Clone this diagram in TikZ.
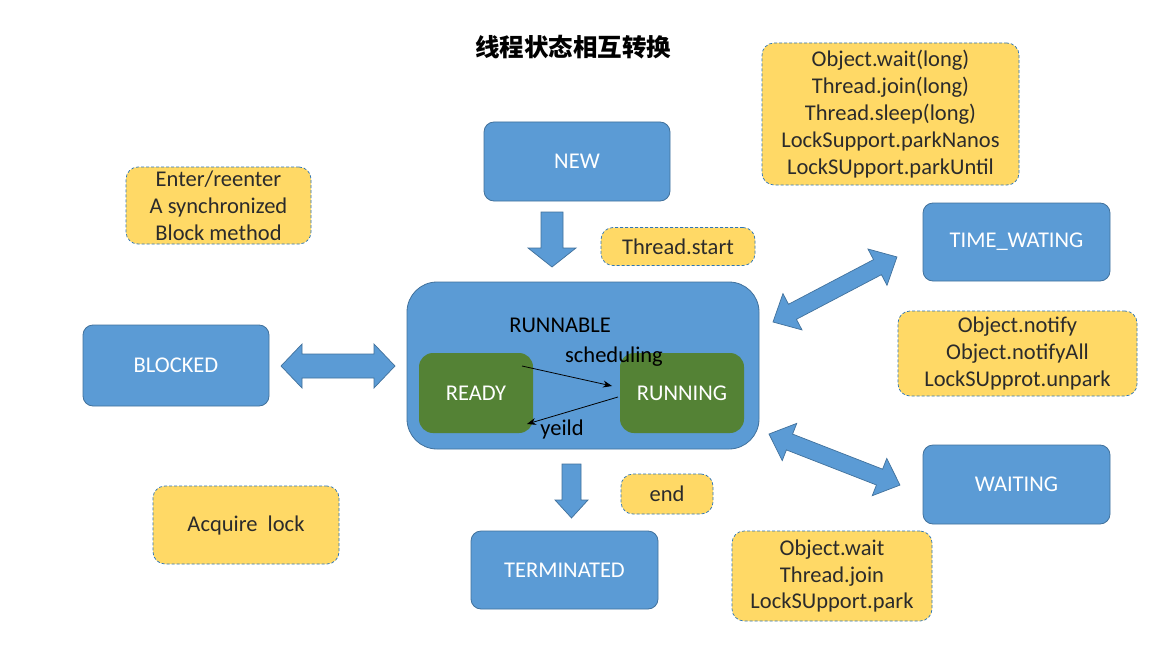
\documentclass[tikz,border=0pt]{standalone}
\usepackage{fontspec}
\setmainfont{Carlito}
\newfontfamily\cjk{Noto Sans CJK SC}
\usetikzlibrary{arrows.meta}
\definecolor{fillblue}{HTML}{5B9BD5}
\definecolor{bordblue}{HTML}{41719C}
\definecolor{dashblue}{HTML}{2E75B6}
\definecolor{noteyellow}{HTML}{FFD966}
\definecolor{notetext}{HTML}{2B2B2B}
\definecolor{fillgreen}{HTML}{548235}
\newcommand\blockdbl[7]{% x, y, angle, length, shaft half, head half, head length
  \begin{scope}[shift={(#1,#2)},rotate=#3]
    \draw[barrow] (0,0) -- (#7,#6) -- (#7,#5) -- (#4-#7,#5) -- (#4-#7,#6) -- (#4,0)
      -- (#4-#7,-#6) -- (#4-#7,-#5) -- (#7,-#5) -- (#7,-#6) -- cycle;
  \end{scope}}
\newcommand\blocksgl[7]{% x, y, angle, length, shaft half, head half, head length
  \begin{scope}[shift={(#1,#2)},rotate=#3]
    \draw[barrow] (0,#5) -- (#4-#7,#5) -- (#4-#7,#6) -- (#4,0)
      -- (#4-#7,-#6) -- (#4-#7,-#5) -- (0,-#5) -- cycle;
  \end{scope}}
\begin{document}
\begin{tikzpicture}[x=1pt,y=-1pt,
  box/.style={draw=bordblue, fill=fillblue, rounded corners=10pt, text=white,
    font=\fontsize{22.5}{26}\selectfont, line width=0.8pt, inner sep=0pt},
  gbox/.style={fill=fillgreen, rounded corners=14pt, text=white,
    font=\fontsize{22.5}{26}\selectfont, inner sep=0pt},
  note/.style={draw=dashblue, dash pattern=on 3pt off 2pt, line width=0.7pt,
    fill=noteyellow, rounded corners=12pt, text=notetext, align=center,
    font=\fontsize{22.5}{26.8}\selectfont, inner sep=0pt},
  lbl/.style={text=black, font=\fontsize{22.5}{26}\selectfont, inner sep=0pt},
  barrow/.style={draw=bordblue, fill=fillblue, line width=0.7pt, line join=miter},
  thin arrow/.style={draw=black, line width=0.8pt, -{Stealth[length=9pt,width=7pt]}}]
\path[fill=white] (0,0) rectangle (1164,666);
\useasboundingbox (0,0) rectangle (1164,666);

% title
\node[font=\cjk\bfseries\fontsize{24.5}{28}\selectfont] (title) at (573,47) {线程状态相互转换};

% state boxes
\node[box, minimum width=186pt, minimum height=79pt] (new) at (577,161.5) {NEW};
\node[box, minimum width=186pt, minimum height=81pt] (blocked) at (176,365.5) {BLOCKED};
\node[box, minimum width=187pt, minimum height=78pt] (term) at (564.5,570) {TERMINATED};
\node[box, minimum width=187pt, minimum height=78pt] (timew) at (1016.5,242) {TIME\_WATING};
\node[box, minimum width=187pt, minimum height=79pt] (wait) at (1016.5,484.5) {WAITING};
\node[box, rounded corners=30pt, minimum width=352pt, minimum height=167pt] (runnable) at (583,365.5) {};
\node[lbl] (rlabel) at (560,325) {RUNNABLE};
\node[gbox, minimum width=114pt, minimum height=80pt] (ready) at (476,393) {READY};
\node[gbox, minimum width=124pt, minimum height=80pt] (running) at (682,393) {RUNNING};

% inner transitions
\coordinate (s1) at (522,366);
\coordinate (s2) at (612,386);
\coordinate (y1) at (618,397);
\coordinate (y2) at (527,424);
\draw[thin arrow] (s1) -- (s2);
\draw[thin arrow] (y1) -- (y2);
\node[lbl] (sched) at (614,357) {scheduling};
\node[lbl] (yeild) at (562,429) {yeild};

% notes
\node[note, minimum width=154pt, minimum height=38pt] (nstart) at (678,246.5) {Thread.start};
\node[note, minimum width=257pt, minimum height=142pt] (ntime) at (890.5,114)
  {Object.wait(long)\\Thread.join(long)\\Thread.sleep(long)\\LockSupport.parkNanos\\LockSUpport.parkUntil};
\node[note, minimum width=185pt, minimum height=77pt] (nenter) at (218.5,205.5)
  {Enter/reenter\\A synchronized\\Block method};
\node[note, minimum width=186pt, minimum height=78pt] (nacq) at (246,525) {Acquire\ \ lock};
\node[note, minimum width=92pt, minimum height=40pt] (nend) at (667,494) {end};
\node[note, minimum width=239pt, minimum height=85pt] (nnotify) at (1017.5,353.5)
  {Object.notify\\Object.notifyAll\\LockSUpprot.unpark};
\node[note, minimum width=200pt, minimum height=90pt] (nwait) at (832,576)
  {Object.wait\\Thread.join\\LockSUpport.park};

% block arrows
\blocksgl{552}{212}{-90}{55}{11}{24}{19}
\blocksgl{571.5}{464}{-90}{54}{9.5}{16.5}{18}
\blockdbl{281}{366}{0}{114}{12}{22}{21}
\blockdbl{773}{322}{27.7}{140}{8.5}{20.5}{22}
\blockdbl{769}{434}{-21.3}{140.6}{8.5}{20}{22}
\end{tikzpicture}
\end{document}
